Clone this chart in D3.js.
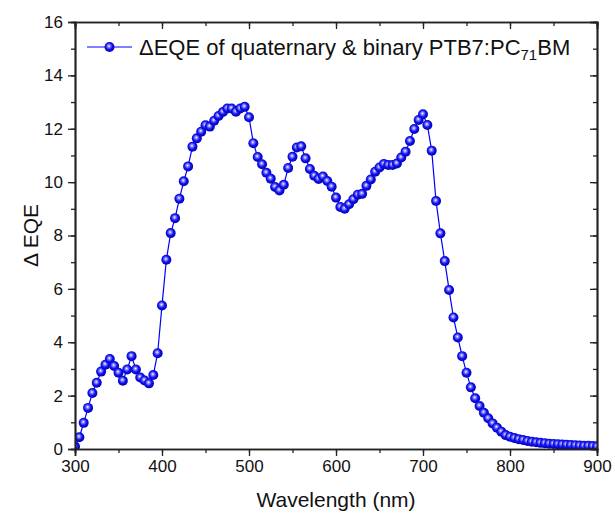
<!DOCTYPE html>
<html>
<head>
<meta charset="utf-8">
<script src="https://cdn.jsdelivr.net/npm/d3@7"></script>
<style>
  body { margin: 0; background: #fff; }
  text { font-family: Arial, "Liberation Sans", sans-serif; fill: #111; }
</style>
</head>
<body>
<script>
var width = 615,
  height = 519;

// wavelength grid (nm) and delta EQE (%)
var wavelengths = d3.range(300, 901, 5);
var deltaEQE = [
  0.09, 0.44, 0.98, 1.54, 2.10, 2.48, 2.90, 3.16, 3.37, 3.11,
  2.86, 2.56, 2.98, 3.48, 2.98, 2.68, 2.57, 2.46, 2.77, 3.59,
  5.38, 7.09, 8.09, 8.65, 9.38, 10.03, 10.59, 11.33, 11.64, 11.89,
  12.13, 12.08, 12.30, 12.48, 12.63, 12.76, 12.76, 12.64, 12.76, 12.82,
  12.43, 11.46, 10.94, 10.67, 10.35, 10.13, 9.82, 9.69, 9.90, 10.53,
  10.95, 11.30, 11.34, 10.89, 10.49, 10.24, 10.12, 10.21, 10.04, 9.83,
  9.42, 9.07, 9.00, 9.17, 9.36, 9.53, 9.56, 9.86, 10.10, 10.39,
  10.55, 10.68, 10.64, 10.64, 10.70, 10.92, 11.14, 11.54, 11.99, 12.33,
  12.54, 12.14, 11.18, 9.29, 8.08, 7.04, 5.96, 4.93, 4.18, 3.48,
  2.86, 2.31, 1.90, 1.61, 1.36, 1.15, 0.96, 0.80, 0.65, 0.52,
  0.46, 0.41, 0.37, 0.34, 0.30, 0.27, 0.25, 0.23, 0.22, 0.20,
  0.19, 0.18, 0.17, 0.16, 0.15, 0.14, 0.13, 0.12, 0.12, 0.11,
  0.10
];
var xTicks = [300, 400, 500, 600, 700, 800, 900];
var yTicks = [0, 2, 4, 6, 8, 10, 12, 14, 16];

var data = wavelengths.map(function(w, i) { return {x: w, y: deltaEQE[i]}; });

var m = {left: 75, right: 18, top: 22, bottom: 70};
var pw = width - m.left - m.right,
  ph = height - m.top - m.bottom;

var x = d3.scaleLinear().domain([300, 900]).range([0, pw]);
var y = d3.scaleLinear().domain([0, 16]).range([ph, 0]);

var svg = d3.select("body").append("svg")
  .attr("width", width)
  .attr("height", height);

var defs = svg.append("defs");
var grad = defs.append("radialGradient")
  .attr("id", "ball")
  .attr("cx", "45%").attr("cy", "45%").attr("r", "60%")
  .attr("fx", "45%").attr("fy", "40%");
grad.append("stop").attr("offset", "0%").attr("stop-color", "#ffffff");
grad.append("stop").attr("offset", "22%").attr("stop-color", "#8c8cff");
grad.append("stop").attr("offset", "55%").attr("stop-color", "#1010f0");
grad.append("stop").attr("offset", "100%").attr("stop-color", "#0000a8");

defs.append("clipPath").attr("id", "plotclip")
  .append("rect").attr("width", pw).attr("height", ph);

var g = svg.append("g").attr("transform", "translate(" + m.left + "," + m.top + ")");

// data
var plot = g.append("g").attr("clip-path", "url(#plotclip)");

var line = d3.line()
  .x(function(d) { return x(d.x); })
  .y(function(d) { return y(d.y); });

plot.append("path")
  .datum(data)
  .attr("fill", "none")
  .attr("stroke", "#0000ff")
  .attr("stroke-width", 1.2)
  .attr("d", line);

plot.selectAll("circle").data(data)
  .enter().append("circle")
  .attr("cx", function(d) { return x(d.x); })
  .attr("cy", function(d) { return y(d.y); })
  .attr("r", 5)
  .attr("fill", "url(#ball)");

// axes
var axisColor = "#222";
var xMinor = d3.range(300, 901, 50);
var yMinor = d3.range(0, 17, 1);

// minor ticks
g.append("g").attr("transform", "translate(0," + ph + ")")
  .call(d3.axisBottom(x).tickValues(xMinor).tickSize(4).tickFormat(""));
g.append("g")
  .call(d3.axisLeft(y).tickValues(yMinor).tickSize(4).tickFormat(""));
g.append("g")
  .call(d3.axisTop(x).tickValues(xMinor).tickSize(-4).tickFormat(""));
g.append("g").attr("transform", "translate(" + pw + ",0)")
  .call(d3.axisRight(y).tickValues(yMinor).tickSize(-4).tickFormat(""));

// major ticks
g.append("g").attr("transform", "translate(0," + ph + ")")
  .call(d3.axisBottom(x).tickValues(xTicks).tickSize(7).tickPadding(4).tickFormat(d3.format("d")));
g.append("g")
  .call(d3.axisLeft(y).tickValues(yTicks).tickSize(7).tickPadding(5).tickFormat(d3.format("d")));
g.append("g")
  .call(d3.axisTop(x).tickValues(xTicks).tickSize(-7).tickFormat(""));
g.append("g").attr("transform", "translate(" + pw + ",0)")
  .call(d3.axisRight(y).tickValues(yTicks).tickSize(-7).tickFormat(""));

g.selectAll(".domain").attr("stroke", axisColor).attr("stroke-width", 1.7);
g.selectAll(".tick line").attr("stroke", axisColor).attr("stroke-width", 1.3);
g.selectAll(".tick text").style("font-size", "17px").style("font-family", "Arial, 'Liberation Sans', sans-serif").attr("fill", "#111");

// axis titles
svg.append("text")
  .attr("x", m.left + pw / 2)
  .attr("y", 507)
  .attr("text-anchor", "middle")
  .style("font-size", "21px")
  .text("Wavelength (nm)");

svg.append("text")
  .attr("transform", "translate(38," + (m.top + ph / 2) + ") rotate(-90)")
  .attr("text-anchor", "middle")
  .style("font-size", "21px")
  .text("\u0394 EQE");

// legend
var leg = g.append("g").attr("transform", "translate(0,25)");
leg.append("line")
  .attr("x1", 12).attr("x2", 57)
  .attr("y1", 0).attr("y2", 0)
  .attr("stroke", "#0000ff").attr("stroke-width", 1.2);
leg.append("circle")
  .attr("cx", 34.5).attr("cy", 0).attr("r", 5)
  .attr("fill", "url(#ball)");
var lt = leg.append("text")
  .attr("x", 64).attr("y", 8)
  .style("font-size", "22px");
lt.append("tspan").text("\u0394EQE of quaternary & binary PTB7:PC");
lt.append("tspan").attr("baseline-shift", "-30%").style("font-size", "15px").text("71");
lt.append("tspan").text("BM");
</script>
</body>
</html>
